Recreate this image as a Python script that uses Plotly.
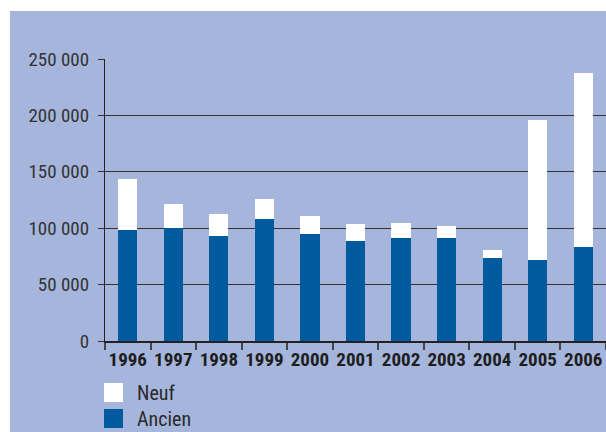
import plotly.graph_objects as go

years = ["1996", "1997", "1998", "1999", "2000", "2001", "2002", "2003", "2004", "2005", "2006"]
ancien = [98500, 100300, 93200, 108300, 94900, 88700, 91400, 91400, 73600, 71900, 83700]
total = [143700, 121600, 112700, 126000, 110900, 104100, 105000, 102200, 80700, 196000, 237800]
neuf = [t - a for t, a in zip(total, ancien)]
y_ticks = [0, 50000, 100000, 150000, 200000, 250000]
y_labels = ["0", "50 000", "100 000", "150 000", "200 000", "250 000"]

W, H = 606, 432
L, R, T, B = 105, 0, 59, 91
PW, PH = W - L - R, H - T - B

PANEL = "#a5b5db"
BLUE = "#005a9e"
FONT = "Roboto Condensed, DejaVu Sans Condensed, sans-serif"

def px(x):
    return (x - L) / PW

def py(y):
    return (H - B - y) / PH

fig = go.Figure()
fig.add_trace(go.Bar(x=years, y=ancien, name="Ancien", marker_color=BLUE,
                     marker_line_width=0, width=0.42))
fig.add_trace(go.Bar(x=years, y=neuf, name="Neuf", marker_color="white",
                     marker_line_width=0, width=0.42))

shapes = [
    dict(type="rect", xref="paper", yref="paper", x0=px(10), x1=px(W + 5),
         y0=py(H + 5), y1=py(11), fillcolor=PANEL, line_width=0, layer="below"),
    dict(type="rect", xref="paper", yref="paper", x0=px(104), x1=px(123),
         y0=py(402), y1=py(383), fillcolor="white", line_width=0),
    dict(type="rect", xref="paper", yref="paper", x0=px(104), x1=px(123),
         y0=py(428), y1=py(409), fillcolor=BLUE, line_width=0),
]
annotations = [
    dict(xref="paper", yref="paper", x=px(135), y=py(393), text="Neuf",
         showarrow=False, xanchor="left", yanchor="middle",
         font=dict(family=FONT, size=20, color="#2a2a2a")),
    dict(xref="paper", yref="paper", x=px(135), y=py(419), text="Ancien",
         showarrow=False, xanchor="left", yanchor="middle",
         font=dict(family=FONT, size=20, color="#2a2a2a")),
]

fig.update_layout(
    width=W, height=H,
    margin=dict(l=L, r=R, t=T, b=B, pad=0),
    barmode="stack",
    paper_bgcolor="white",
    plot_bgcolor="rgba(0,0,0,0)",
    showlegend=False,
    shapes=shapes,
    annotations=annotations,
)
fig.update_xaxes(
    type="category", showgrid=False, showline=True, linecolor="#222", linewidth=1.5,
    ticks="outside", tickson="boundaries", ticklen=7, tickcolor="#444", tickwidth=1.5,
    tickfont=dict(family=FONT, size=19, color="#1e1e1e", weight="bold"),
    tickangle=0, range=[-0.5, 10.5], fixedrange=True,
)
fig.update_yaxes(
    range=[0, 250000], tickvals=y_ticks, ticktext=y_labels,
    showgrid=True, gridcolor="#333", gridwidth=1,
    showline=True, linecolor="#222", linewidth=1.2,
    ticks="outside", ticklen=6, tickcolor="#333", tickwidth=1,
    tickfont=dict(family=FONT, size=19, color="#333"),
    ticklabelstandoff=5, zeroline=False, fixedrange=True,
)

fig.write_html("out.html", config={"displayModeBar": False},
               post_script="document.body.style.margin='0';document.body.style.overflow='hidden';")
